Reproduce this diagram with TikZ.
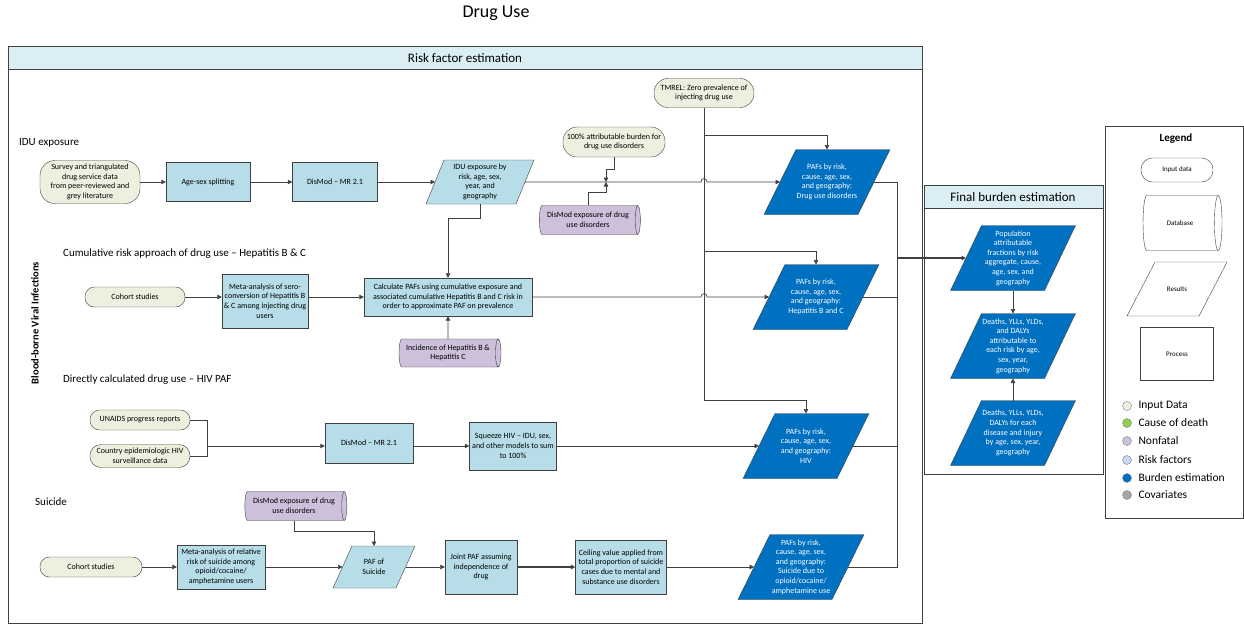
\documentclass[tikz,border=0pt]{standalone}
\usepackage{fontspec}
\setmainfont{Carlito}
\usetikzlibrary{arrows.meta,shapes.geometric,calc}

\definecolor{inputfill}{HTML}{EBF1DE}
\definecolor{procfill}{HTML}{B7DEE8}
\definecolor{nonfatal}{HTML}{CCC0DA}
\definecolor{burden}{HTML}{0070C0}
\definecolor{headfill}{HTML}{DAEEF3}
\definecolor{edge}{HTML}{404040}
\definecolor{causefill}{HTML}{92D050}
\definecolor{riskfill}{HTML}{C5D9F1}
\definecolor{covfill}{HTML}{A6A6A6}

% slanted box for results
\makeatletter
\def\leanamt{16pt}
\newdimen\leanxa \newdimen\leanxb \newdimen\leanya \newdimen\leanyb \newdimen\leanhalf
\pgfdeclareshape{leanbox}{
  \inheritsavedanchors[from=rectangle]
  \inheritanchorborder[from=rectangle]
  \inheritanchor[from=rectangle]{center}
  \inheritanchor[from=rectangle]{north}
  \inheritanchor[from=rectangle]{south}
  \inheritanchor[from=rectangle]{east}
  \inheritanchor[from=rectangle]{west}
  \inheritanchor[from=rectangle]{north east}
  \inheritanchor[from=rectangle]{north west}
  \inheritanchor[from=rectangle]{south east}
  \inheritanchor[from=rectangle]{south west}
  \backgroundpath{%
    \pgfmathsetlength\leanhalf{0.5*\leanamt}%
    \southwest \leanxa=\pgf@x \leanya=\pgf@y
    \northeast \leanxb=\pgf@x \leanyb=\pgf@y
    \pgfpathmoveto{\pgfqpoint{\dimexpr\leanxa+\leanhalf\relax}{\leanyb}}%
    \pgfpathlineto{\pgfqpoint{\dimexpr\leanxb+\leanhalf\relax}{\leanyb}}%
    \pgfpathlineto{\pgfqpoint{\dimexpr\leanxb-\leanhalf\relax}{\leanya}}%
    \pgfpathlineto{\pgfqpoint{\dimexpr\leanxa-\leanhalf\relax}{\leanya}}%
    \pgfpathclose
  }
}
\makeatother

\begin{document}
\begin{tikzpicture}[x=1pt,y=-1pt,
  smalltext/.style={font=\fontsize{8}{9.6}\selectfont},
  lean/.code={\def\leanamt{#1}},
  inbox/.style={rectangle,rounded corners=9.5,draw=edge,fill=inputfill,smalltext,align=center,inner sep=1pt},
  procbox/.style={rectangle,draw=edge,fill=procfill,smalltext,align=center,inner sep=1pt},
  dbbox/.style={cylinder,aspect=0.3,draw=edge,fill=nonfatal,smalltext,align=center,inner sep=1pt},
  resbox/.style={leanbox,draw=edge,fill=procfill,smalltext,align=center,inner sep=1pt,outer sep=0pt},
  pafbox/.style={leanbox,draw=edge,fill=burden,text=white,smalltext,align=center,inner sep=1pt,outer sep=0pt,
    minimum width=94,minimum height=65,lean=32pt},
  flow/.style={draw=edge,line width=0.7pt,-{Triangle[width=4.5pt,length=4.5pt]}},
  link/.style={draw=edge,line width=0.7pt},
  secttext/.style={font=\fontsize{11}{13}\selectfont,anchor=west,inner sep=0pt},
  keydot/.style={circle,draw=gray,minimum size=9,inner sep=0pt},
  keylabel/.style={font=\fontsize{11.5}{13}\selectfont,anchor=west}
]
\useasboundingbox (0,0) rectangle (1244,626);

% Frames
\draw[edge,line width=0.8pt] (8,46) rectangle (922,623);
\draw[edge,line width=0.8pt,fill=headfill] (8,46) rectangle (922,69);
\draw[edge,line width=0.8pt] (924,185) rectangle (1103,474);
\draw[edge,line width=0.8pt,fill=headfill] (924,185) rectangle (1103,208);
\draw[edge,line width=0.8pt] (1105,126) rectangle (1243,518);

% Titles
\node[font=\fontsize{18}{20}\selectfont] (title) at (496,13) {Drug Use};
\node[font=\fontsize{13}{15}\selectfont] (rfhead) at (465,58) {Risk factor estimation};
\node[font=\fontsize{13}{15}\selectfont] (fbhead) at (1013,197) {Final burden estimation};
\node[rotate=90,font=\bfseries\fontsize{10.5}{12}\selectfont] (bbvi) at (35,323) {Blood-borne Viral Infections};
\node[secttext] (idulab) at (19,143) {IDU exposure};
\node[secttext] (heplab) at (63,254) {Cumulative risk approach of drug use – Hepatitis B \& C};
\node[secttext] (hivlab) at (63,380) {Directly calculated drug use – HIV PAF};
\node[secttext] (suilab) at (35,502) {Suicide};

% IDU exposure
\node[inbox,minimum width=100,minimum height=43,rounded corners=15] (survey) at (90,182) {Survey and triangulated\\drug service data\\from peer-reviewed and\\grey literature};
\node[procbox,minimum width=84,minimum height=39] (agesex) at (208,182) {Age-sex splitting};
\node[procbox,minimum width=85,minimum height=39] (dismod) at (335,182) {DisMod – MR 2.1};
\node[resbox,minimum width=90,minimum height=44,lean=18pt] (idu) at (480,182) {IDU exposure by\\risk, age, sex,\\year, and\\geography};
\node[inbox,minimum width=102,minimum height=30,rounded corners=14] (att) at (614,142) {100\% attributable burden for\\drug use disorders};
\node[dbbox,minimum height=101,minimum width=29] (dudexp) at (588,220) {DisMod exposure of drug\\use disorders};
\node[inbox,minimum width=100,minimum height=29,rounded corners=14] (tmrel) at (704,93) {TMREL: Zero prevalence of\\injecting drug use};
\node[pafbox] (pafdud) at (827,182) {PAFs by risk,\\cause, age, sex,\\and geography:\\Drug use disorders};

% Hepatitis B & C
\node[inbox,minimum width=100,minimum height=20] (cohorthep) at (135,297) {Cohort studies};
\node[procbox,minimum width=86,minimum height=54] (metahep) at (265,301) {Meta-analysis of sero-\\conversion of Hepatitis B\\\& C among injecting drug\\users};
\node[procbox,minimum width=168,minimum height=38] (calc) at (448,297) {Calculate PAFs using cumulative exposure and\\associated cumulative Hepatitis B and C risk in\\order to approximate PAF on prevalence};
\node[dbbox,minimum height=102,minimum width=28] (incid) at (448,353) {Incidence of Hepatitis B \&\\Hepatitis C};
\node[pafbox] (pafhep) at (816,297) {PAFs by risk,\\cause, age, sex,\\and geography:\\Hepatitis B and C};

% HIV
\node[inbox,minimum width=100,minimum height=20] (unaids) at (140,420) {UNAIDS progress reports};
\node[inbox,minimum width=100,minimum height=23,rounded corners=11] (country) at (140,456) {Country epidemiologic HIV\\surveillance data};
\node[procbox,minimum width=88,minimum height=40] (dismodhiv) at (369,443) {DisMod – MR 2.1};
\node[procbox,minimum width=87,minimum height=48] (squeeze) at (513,446) {Squeeze HIV – IDU, sex,\\and other models to sum\\to 100\%};
\node[pafbox] (pafhiv) at (806,446) {PAFs by risk,\\cause, age, sex,\\and geography:\\HIV};

% Suicide
\node[inbox,minimum width=102,minimum height=20] (cohortsui) at (91,567) {Cohort studies};
\node[procbox,minimum width=88,minimum height=44] (metasui) at (221,567) {Meta-analysis of relative\\risk of suicide among\\opioid/cocaine/\\amphetamine users};
\node[dbbox,minimum height=102,minimum width=29] (suiexp) at (294,506) {DisMod exposure of drug\\use disorders};
\node[resbox,minimum width=63,minimum height=42,lean=19pt] (pafsuic) at (374,567) {PAF of\\Suicide};
\node[procbox,minimum width=72,minimum height=54] (joint) at (481,567) {Joint PAF assuming\\independence of\\drug};
\node[procbox,minimum width=91,minimum height=54] (ceiling) at (621,567) {Ceiling value applied from\\total proportion of suicide\\cases due to mental and\\substance use disorders};
\node[pafbox] (pafsui) at (801,567) {PAFs by risk,\\cause, age, sex,\\and geography:\\Suicide due to\\opioid/cocaine/\\amphetamine use};

% Final burden estimation
\node[pafbox,lean=31pt] (popaf) at (1013,258) {Population\\attributable\\fractions by risk\\aggregate, cause,\\age, sex, and\\geography};
\node[pafbox,lean=31pt] (attrib) at (1013,346) {Deaths, YLLs, YLDs,\\and DALYs\\attributable to\\each risk by age,\\sex, year,\\geography};
\node[pafbox,lean=31pt] (burden) at (1013,433) {Deaths, YLLs, YLDs,\\DALYs for each\\disease and injury\\by age, sex, year,\\geography};

% Legend
\node[font=\bfseries\fontsize{11}{13}\selectfont] (legtitle) at (1176,139) {Legend};
\node[inbox,fill=white,minimum width=72,minimum height=24,rounded corners=11.5,font=\fontsize{7}{8}\selectfont] (leginput) at (1177,170) {Input data};
\node[dbbox,fill=white,aspect=1.1,minimum height=79,minimum width=55,font=\fontsize{7}{8}\selectfont] (legdb) at (1180,223) {Database};
\node[resbox,fill=white,minimum width=72,minimum height=54,lean=28pt,font=\fontsize{7}{8}\selectfont] (legres) at (1177,289) {Results};
\node[procbox,fill=white,minimum width=73,minimum height=53,font=\fontsize{7}{8}\selectfont] (legproc) at (1177,354) {Process};
\foreach \y/\col/\lab [count=\i] in {406/inputfill/Input Data, 423/causefill/Cause of death, 441/nonfatal/Nonfatal,
    460/riskfill/Risk factors, 478/burden/Burden estimation, 495/covfill/Covariates} {
  \node[keydot,fill=\col] (dot\i) at (1127,\y) {};
  \node[keylabel] (key\i) at (1135,\y) {\lab};
}

% Connectors: IDU exposure
\draw[flow] (survey.east) -- (agesex.west);
\draw[flow] (agesex.east) -- (dismod.west);
\draw[flow] (dismod.east) -- (idu.west);
\coordinate (hopa) at ($(tmrel.south |- idu.east)+(-3,0)$);
\draw[flow] (idu.east) -- (hopa) .. controls +(0,-4.5) and +(0,-4.5) .. ++(6,0) -- (pafdud.west);
\coordinate (attjoin) at (606,182);
\draw[flow] (att.south) -- ++(0,12) -| (attjoin);
\draw[flow] (dudexp.north) -- ++(0,-13) -| (attjoin);

% TMREL
\coordinate (tbusa) at (704,135);
\coordinate (tbusb) at (704,251);
\coordinate (tbusc) at (704,400);
\draw[link] (tmrel.south) -- (tbusc);
\draw[flow] (tbusa) -| (pafdud.north);
\draw[flow] (tbusb) -| (pafhep.north);
\draw[flow] (tbusc) -| (pafhiv.north);

% Hepatitis
\draw[flow] (cohorthep.east) -- (cohorthep.east -| metahep.west);
\draw[flow] (metahep.east |- calc.west) -- (calc.west);
\draw[flow] (idu.south) -- ++(0,14) -| (calc.north);
\draw[flow] (incid.north) -- (calc.south);
\coordinate (hopb) at ($(tmrel.south |- calc.east)+(-3,0)$);
\draw[flow] (calc.east) -- (hopb) .. controls +(0,-4.5) and +(0,-4.5) .. ++(6,0) -- (pafhep.west);

% HIV
\coordinate (hivjoin) at (207,446);
\draw[link] (unaids.east) -| (hivjoin);
\draw[link] (country.east) -| (hivjoin);
\draw[flow] (hivjoin) -- (hivjoin -| dismodhiv.west);
\draw[flow] (dismodhiv.east |- squeeze.west) -- (squeeze.west);
\draw[flow] (squeeze.east) -- (pafhiv.west);

% Suicide
\draw[flow] (suiexp.south) -- ++(0,11) -| (pafsuic.north);
\draw[flow] (cohortsui.east) -- (metasui.west);
\draw[flow] (metasui.east) -- (pafsuic.west);
\draw[flow] (pafsuic.east) -- (joint.west);
\draw[flow,line width=1.3pt] (joint.east) -- (ceiling.west);
\draw[flow] (ceiling.east) -- (pafsui.west);

% PAFs to final burden
\coordinate (bus) at (897,258);
\foreach \p in {pafdud,pafhep,pafhiv,pafsui} \draw[link] (\p.east) -| (bus);
\draw[flow,line width=1.2pt] (bus) -- (popaf.west);
\draw[flow] (popaf.south) -- (attrib.north);
\draw[flow] (burden.north) -- (attrib.south);
\end{tikzpicture}
\end{document}
